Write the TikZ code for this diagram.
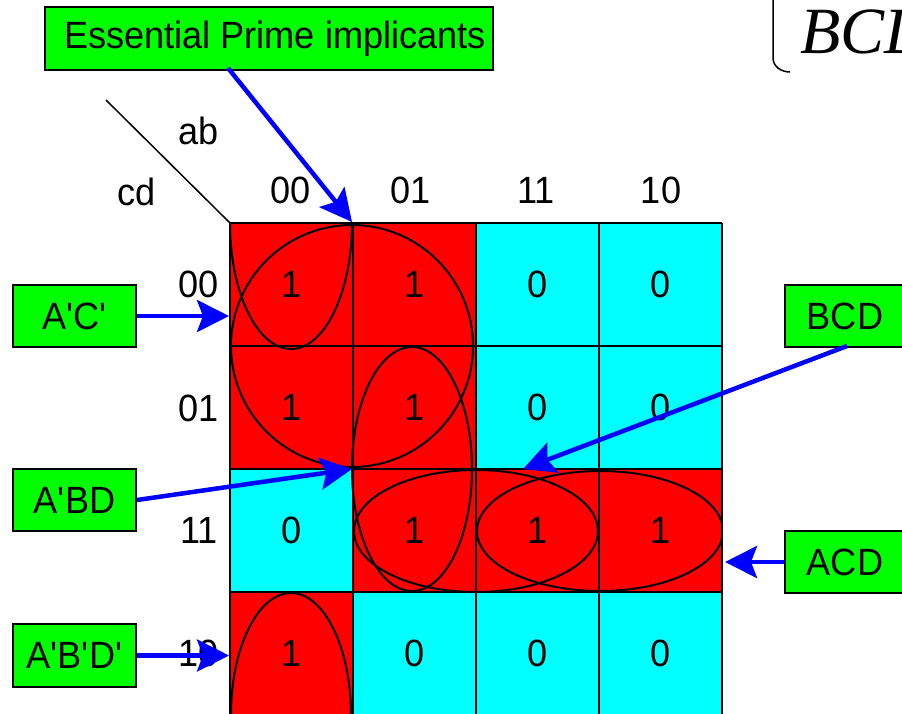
\documentclass[tikz,border=0pt]{standalone}
\usepackage{fontspec}
\setmainfont{Liberation Sans}[FakeStretch=0.95]
\newfontfamily\tmsfont{Liberation Serif}
\usetikzlibrary{arrows.meta}
\definecolor{kred}{RGB}{255,0,0}
\definecolor{kcyan}{RGB}{0,255,255}
\definecolor{kgreen}{RGB}{0,255,0}
\definecolor{kblue}{RGB}{0,0,255}
\newcommand{\qt}{\textquotesingle}
\begin{document}
\begin{tikzpicture}[x=1pt,y=-1pt,
  lbl/.style={font=\fontsize{38}{40}\selectfont, inner sep=0pt},
  box/.style={draw=black, line width=2pt, fill=kgreen, font=\fontsize{38}{40}\selectfont, inner sep=0pt},
  arr/.style={draw=kblue, line width=4.5pt, -{Stealth[length=32pt,width=32pt,inset=6pt]}},
  ring/.style={draw=black, line width=2pt},
  gridline/.style={draw=black, line width=2pt}]
\useasboundingbox (0,0) rectangle (902,713);
\clip (0,0) rectangle (902,713);
% cells
\foreach \i/\j/\f/\v in {0/0/kred/1,1/0/kred/1,2/0/kcyan/0,3/0/kcyan/0,
                         0/1/kred/1,1/1/kred/1,2/1/kcyan/0,3/1/kcyan/0,
                         0/2/kcyan/0,1/2/kred/1,2/2/kred/1,3/2/kred/1,
                         0/3/kred/1,1/3/kcyan/0,2/3/kcyan/0,3/3/kcyan/0}{
  \fill[\f] (230+123*\i,223+123*\j) rectangle ++(123,123);
  \node[lbl] (v\i\j) at (291.5+123*\i,284.5+123*\j) {\v};
}
% grid lines
\foreach \k in {0,...,4}{
  \draw[gridline] (230+123*\k,223) -- (230+123*\k,715);
  \draw[gridline] (230,223+123*\k) -- (722,223+123*\k);
}
% groupings
\begin{scope}
\clip (230,223) rectangle (722,715);
\draw[ring] (352,346) circle [radius=121];
\draw[ring] (291,223) ellipse [x radius=61, y radius=126];
\draw[ring] (291,715) ellipse [x radius=60, y radius=122];
\draw[ring] (412,469) ellipse [x radius=60, y radius=122];
\draw[ring] (476,531) ellipse [x radius=122, y radius=61];
\draw[ring] (600,531) ellipse [x radius=123, y radius=60];
\end{scope}
% corner labels
\coordinate (corner) at (230,223);
\coordinate (dstart) at (106,100);
\draw[line width=1.5pt] (dstart) -- (corner);
\node[lbl] (ab) at (199,131) {ab};
\node[lbl] (cd) at (137,192) {cd};
\node[lbl] (h0) at (291,190) {00};
\node[lbl] (h1) at (411,190) {01};
\node[lbl] (h2) at (536,190) {11};
\node[lbl] (h3) at (661,190) {10};
\node[lbl] (r0) at (199,284) {00};
\node[lbl] (r1) at (199,408) {01};
\node[lbl] (r2) at (199,530) {11};
\node[lbl] (r3) at (199,653) {10};
% label boxes
\node[box, minimum width=448pt, minimum height=63pt] (ess) at (269,38.5) {\hspace*{12pt}Essential Prime implicants};
\node[box, minimum width=123pt, minimum height=62pt] (ac) at (74.5,316) {A\qt C\qt};
\node[box, minimum width=123pt, minimum height=62pt] (abd) at (74.5,500) {A\qt BD};
\node[box, minimum width=123pt, minimum height=63pt] (abpd) at (74.5,655.5) {A\qt B\qt D\qt};
\node[box, minimum width=120pt, minimum height=62pt] (bcd) at (845,316) {BCD};
\node[box, minimum width=120pt, minimum height=62pt] (acd) at (845,562) {ACD};
% arrow ends
\coordinate (sEss) at (228,68);
\coordinate (tEss) at (352,222);
\coordinate (tAC) at (229,316);
\coordinate (tABD) at (352,469);
\coordinate (tABpD) at (229,655.5);
\coordinate (sBCD) at (847,346);
\coordinate (tBCD) at (523,469);
\coordinate (tACD) at (725,562);
\draw[arr] (sEss) -- (tEss);
\draw[arr] (ac.east) -- (tAC);
\draw[arr] (abd.east) -- (tABD);
\draw[arr] (abpd.east) -- (tABpD);
\draw[arr] (sBCD) -- (tBCD);
\draw[arr] (acd.west) -- (tACD);
% top-right fragment
\coordinate (brA) at (773,0);
\coordinate (brB) at (773,58);
\coordinate (brC) at (790,72);
\draw[line width=1.5pt] (brA) -- (brB) to[out=-90,in=180] (brC);
\node[anchor=base west, inner sep=0pt, font=\tmsfont\itshape\fontsize{66}{70}\selectfont] (frag) at (800,53) {BCD};
\end{tikzpicture}
\end{document}
